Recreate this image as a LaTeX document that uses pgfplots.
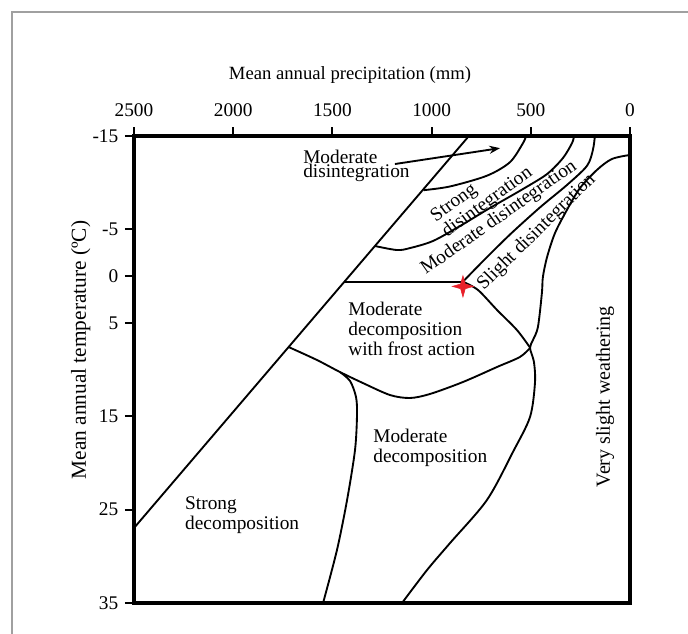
\documentclass[border=0pt]{standalone}
\usepackage{pgfplots}
\pgfplotsset{compat=1.18}
\usepackage{fontspec}
\setmainfont{Liberation Serif}
\usetikzlibrary{arrows.meta}
\definecolor{starred}{RGB}{232,32,42}
\definecolor{framegray}{RGB}{160,160,160}
\pgfdeclareplotmark{fourstar}{%
  \pgfpathmoveto{\pgfqpoint{0pt}{\pgfplotmarksize}}%
  \pgfpathlineto{\pgfqpoint{0.22\pgfplotmarksize}{0.22\pgfplotmarksize}}%
  \pgfpathlineto{\pgfqpoint{\pgfplotmarksize}{0pt}}%
  \pgfpathlineto{\pgfqpoint{0.22\pgfplotmarksize}{-0.22\pgfplotmarksize}}%
  \pgfpathlineto{\pgfqpoint{0pt}{-\pgfplotmarksize}}%
  \pgfpathlineto{\pgfqpoint{-0.22\pgfplotmarksize}{-0.22\pgfplotmarksize}}%
  \pgfpathlineto{\pgfqpoint{-\pgfplotmarksize}{0pt}}%
  \pgfpathlineto{\pgfqpoint{-0.22\pgfplotmarksize}{0.22\pgfplotmarksize}}%
  \pgfpathclose
  \pgfusepathqfillstroke}
\tikzset{region/.style={font=\fontsize{14.5}{15}\selectfont, inner sep=0pt}}
\begin{document}
\begin{tikzpicture}[font=\fontsize{14}{15}\selectfont]
\begin{axis}[
  scale only axis, width=372pt, height=350.25pt,
  xmin=0, xmax=2500, ymin=-15, ymax=35,
  x dir=reverse, y dir=reverse,
  axis line style={line width=2.3pt},
  xtick={0,500,1000,1500,2000,2500},
  xticklabels={0,500,1000,1500,2000,2500},
  ytick={-15,-5,0,5,15,25,35},
  yticklabels={-15,-5,0,5,15,25,35},
  xtick pos=right, xticklabel pos=right,
  ytick pos=left, yticklabel pos=left,
  tick align=outside, major tick length=6.75pt,
  tick style={line width=1.4pt, black},
  ticklabel style={font=\fontsize{14.5}{15}\selectfont},
  xticklabel style={yshift=4pt},
  yticklabel style={xshift=-1.5pt},
  cycle list={{black,mark=none,line width=1.4pt},{black,mark=none,line width=1.4pt}},
]
% main diagonal
\addplot coordinates {(2500,26.97) (812,-15)};
% horizontal line near 0
\addplot coordinates {(1439,0.6) (842,0.6)};
% moderate / slight disintegration boundary
\addplot+[smooth] coordinates {(842,0.6) (741,-1.6) (605,-4.45) (454,-7.35) (318,-9.75) (217,-11.8) (187,-13.5) (177,-15)};
% strong / moderate disintegration boundary
\addplot+[smooth] coordinates {(1285,-3.22) (1174,-2.79) (1109,-3.0) (993,-3.76) (857,-5.36) (706,-7.29) (539,-9.33) (418,-10.93) (338,-12.64) (292,-14.25) (282,-15)};
% strong disintegration upper boundary
\addplot+[smooth] coordinates {(1040,-9.2) (907,-9.6) (721,-10.75) (605,-12.2) (539,-14.25) (524,-15)};
% very slight weathering boundary
\addplot+[smooth] coordinates {(0,-12.97) (91,-12.54) (167,-11.36) (252,-9.43) (318,-7.08) (378,-4.61) (418,-2.04) (439,0.10) (444,1.81) (464,5.45) (489,6.84) (504,7.70) (484,9.20) (479,11.45) (504,15.09) (590,18.83) (721,23.97) (907,28.58) (1023,31.47) (1149,35)};
% star to junction
\addplot+[smooth] coordinates {(842,0.6) (766,1.49) (670,3.63) (570,5.77) (504,7.65)};
% frost action lower boundary
\addplot+[smooth] coordinates {(1720,7.6) (1578,8.98) (1462,10.27) (1346,11.45) (1210,12.73) (1109,13.05) (1008,12.62) (842,11.34) (670,9.73) (555,8.66) (504,7.70)};
% strong / moderate decomposition boundary
\addplot+[smooth] coordinates {(1462,10.27) (1411,11.23) (1381,12.94) (1376,14.87) (1386,18.62) (1426,23.97) (1477,29.33) (1547,35)};
% arrow
\addplot+[-{Stealth[length=8pt,width=6pt]}] coordinates {(1185,-12.0) (655,-13.7)};
% star
\addplot[only marks, mark=fourstar, mark size=8pt, mark options={fill=starred, draw=starred, line width=0.4pt}] coordinates {(842,1.1)};
% region labels
\node[region, anchor=west, align=left, font=\fontsize{14.5}{10.5}\selectfont] at (axis cs:1648,-11.79) {Moderate\\disintegration};
\node[region, align=left, rotate=36, font=\fontsize{14.5}{12}\selectfont] at (axis cs:746,-8.68) {Strong\\disintegration};
\node[region, rotate=35] at (axis cs:660,-6.22) {Moderate disintegration};
\node[region, rotate=44.5] at (axis cs:470,-4.7) {Slight disintegration};
\node[region, anchor=west, align=left] at (axis cs:1421,5.66) {Moderate\\decomposition\\with frost action};
\node[region, anchor=west, align=left] at (axis cs:1295,18.4) {Moderate\\decomposition};
\node[region, anchor=west, align=left] at (axis cs:2243,25.6) {Strong\\decomposition};
\node[region, rotate=90, font=\fontsize{15}{15}\selectfont] at (axis cs:126,12.9) {Very slight weathering};
\coordinate (SW) at (axis description cs:0,0);
\end{axis}
% axis titles
\node at ([shift={(162pt,396pt)}]SW) {Mean annual precipitation (mm)};
\node[rotate=90, font=\fontsize{16}{16}\selectfont] at ([shift={(-40pt,189.75pt)}]SW) {Mean annual temperature (ºC)};
% outer frame
\draw[framegray, line width=0.8pt] ([shift={(-91.5pt,-23.25pt)}]SW) -- ([shift={(-91.5pt,443.25pt)}]SW) -- ([shift={(415.5pt,443.25pt)}]SW);
\pgfresetboundingbox
\path[use as bounding box] ([shift={(-100.5pt,-23.25pt)}]SW) rectangle ([shift={(415.5pt,452.25pt)}]SW);
\end{tikzpicture}
\end{document}
